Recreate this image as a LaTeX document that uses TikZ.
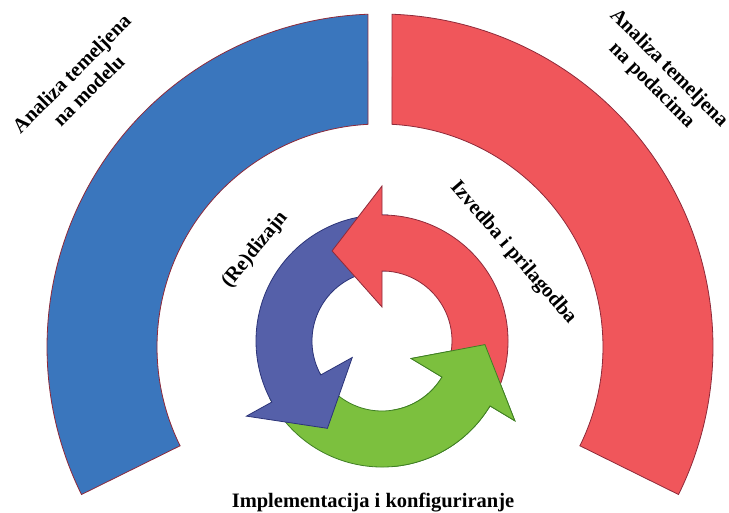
\documentclass[tikz,border=0pt]{standalone}
\usepackage{fontspec}
\setmainfont{Liberation Serif}
\definecolor{plava}{HTML}{3A76BD}
\definecolor{crvena}{HTML}{F0565B}
\definecolor{rub}{HTML}{8E2A3A}
\definecolor{ljub}{HTML}{5560A9}
\definecolor{ljubrub}{HTML}{2C3478}
\definecolor{zelena}{HTML}{7CC03E}
\definecolor{zelenarub}{HTML}{3F7F24}
\begin{document}
\begin{tikzpicture}[x=1pt,y=1pt,
    natpis/.style={font=\fontsize{20.5}{24}\selectfont\bfseries,align=center,inner sep=0pt},
    traka/.style={draw=rub,line width=0.8pt},
    strel/.style={line width=0.8pt}]
    \useasboundingbox (0,0) rectangle (729,513);
    \def\R{333} \def\r{223} % velike trake
    \def\Rv{126} \def\rv{70} % krug sa strelicama
    \def\strelica#1{(#1-122:\Rv) arc[start angle=#1-122,end angle=#1,radius=\Rv]
        -- (#1:155) -- (#1+29:103) -- (#1:34) -- (#1:\rv)
        arc[start angle=#1,end angle=#1-122,radius=\rv] -- cycle}
    % trake
    \begin{scope}[shift={(380,166)}]
        \draw[traka,fill=plava] (92.07:\R) arc[start angle=92.07,end angle=206.3,radius=\R]
            -- (206.3:\r) arc[start angle=206.3,end angle=93.08,radius=\r] -- cycle;
        \draw[traka,fill=crvena] (87.93:\R) arc[start angle=87.93,end angle=-26.3,radius=\R]
            -- (-26.3:\r) arc[start angle=-26.3,end angle=86.92,radius=\r] -- cycle;
    \end{scope}
    % strelice
    \begin{scope}[shift={(382,172)}]
        \draw[strel,fill=zelena,draw=zelenarub] \strelica{329};
        \draw[strel,fill=ljub,draw=ljubrub] \strelica{209};
        \draw[strel,fill=crvena,draw=rub] \strelica{90};
        \begin{scope}
            \clip (10,-200) rectangle (200,8);
            \draw[strel,fill=zelena,draw=zelenarub] \strelica{329};
        \end{scope}
    \end{scope}
    % natpisi
    \node[natpis,rotate=45] (lijevi) at (80,431) {Analiza temeljena\\na modelu};
    \node[natpis,rotate=-45] (desni) at (660,436) {Analiza temeljena\\na podacima};
    \node[natpis,rotate=51] (redizajn) at (255,263) {(Re)dizajn};
    \node[natpis,rotate=-49] (izvedba) at (513,260) {Izvedba i prilagodba};
    \node[natpis,anchor=base] (implementacija) at (373,5) {Implementacija i konfiguriranje};
\end{tikzpicture}
\end{document}
